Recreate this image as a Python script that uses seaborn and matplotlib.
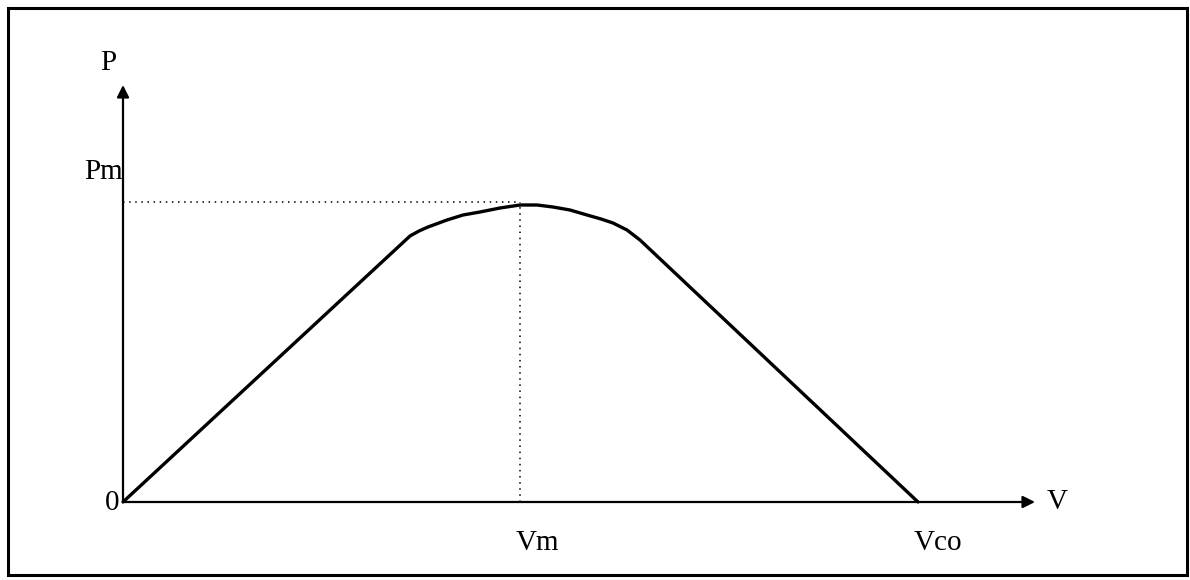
import numpy as np
import pandas as pd
import matplotlib
matplotlib.use('Agg')
import matplotlib.pyplot as plt
import seaborn as sns
from matplotlib.patches import Rectangle

# 数据（P-V 曲线，读图估计）
voltage = [0.00, 2.87, 2.96, 3.05, 3.24, 3.40, 3.57, 3.77, 3.97, 4.14, 4.30, 4.47, 4.64, 4.78, 4.90, 5.04, 5.17, 7.95]
power = [0.00, 2.66, 2.71, 2.75, 2.82, 2.87, 2.90, 2.94, 2.97, 2.97, 2.95, 2.92, 2.87, 2.83, 2.79, 2.72, 2.62, 0.00]
v_m = 3.97
p_m = 3.00
x_arrow_end = 9.12
y_arrow_end = 4.17

sns.set_style("white")
plt.rcParams['font.family'] = ['Liberation Serif', 'DejaVu Serif']

df = pd.DataFrame({'V': voltage, 'P': power})

fig = plt.figure(figsize=(11.9, 5.8), dpi=100)
ax = fig.add_axes([0, 0, 1, 1])
ax.set_xlim(-1.23, 10.67)
ax.set_ylim(-0.78, 5.02)
ax.axis('off')

# 外框
fig.patches.append(Rectangle((8 / 1190, 5 / 580), 1179 / 1190, 567 / 580,
                             transform=fig.transFigure, fill=False,
                             edgecolor='black', linewidth=2.2))

# 坐标轴箭头
ax.annotate('', xy=(x_arrow_end, 0), xytext=(0, 0),
            arrowprops=dict(arrowstyle='-|>', color='black', lw=1.6,
                            mutation_scale=18, shrinkA=0, shrinkB=0))
ax.annotate('', xy=(0, y_arrow_end), xytext=(0, 0),
            arrowprops=dict(arrowstyle='-|>', color='black', lw=1.6,
                            mutation_scale=18, shrinkA=0, shrinkB=0))

# 曲线
sns.lineplot(data=df, x='V', y='P', sort=False, color='black', linewidth=2.4,
             solid_joinstyle='round', ax=ax)

# 最大功率点虚线
ax.plot([0, v_m], [p_m, p_m], color='black', linestyle=(0, (1, 3)), linewidth=1.1)
ax.plot([v_m, v_m], [0, p_m], color='black', linestyle=(0, (1, 3)), linewidth=1.1)

fs = 21
txt = dict(fontsize=fs, ha='center', va='center', color='black')
ax.text(-0.15, 4.39, 'P', **txt)
ax.text(-0.19, 3.30, 'Pm', **txt)
ax.text(-0.11, -0.01, '0', **txt)
ax.text(9.34, 0.0, 'V', **txt)
ax.text(4.14, -0.41, 'Vm', **txt)
ax.text(8.15, -0.41, 'Vco', **txt)

fig.savefig('out.png', dpi=100)
